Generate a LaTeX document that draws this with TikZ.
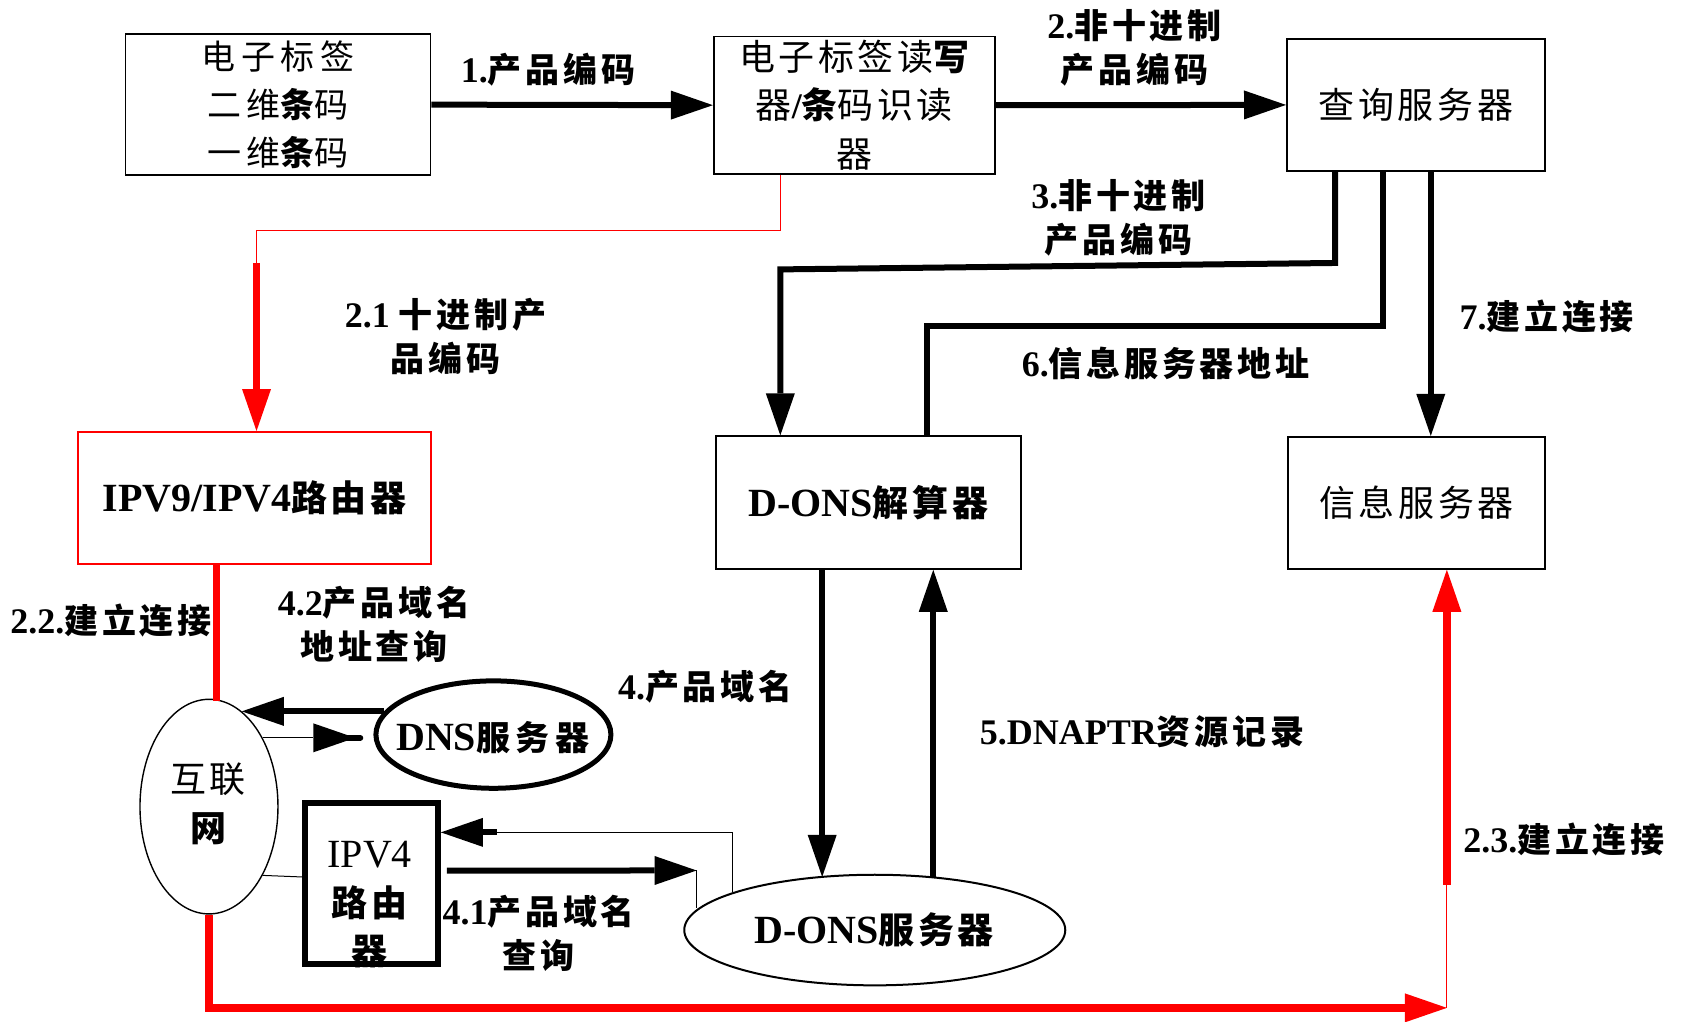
\documentclass[tikz,border=0pt]{standalone}
\usepackage{fontspec}
\setmainfont{Liberation Serif}
\newfontfamily\labC[LetterSpace=11]{Noto Sans CJK SC}
\newfontfamily\boxC[LetterSpace=16]{Noto Sans CJK SC}
\newfontfamily\boxCw[LetterSpace=10]{Noto Sans CJK SC}
\usetikzlibrary{arrows.meta,shapes.geometric}
\newcommand{\BigL}[1]{{\fontsize{20pt}{24.2pt}\selectfont\rmfamily #1}}
\newcommand{\LL}[1]{{\fontsize{18pt}{22pt}\selectfont\rmfamily #1}}
\begin{document}
\begin{tikzpicture}[x=0.53665pt,y=-0.53665pt,
  box/.style={draw, line width=0.9pt, rectangle, inner sep=0pt, align=center,
    font=\fontsize{18pt}{24.2pt}\selectfont\boxCw},
  ell/.style={draw, ellipse, inner sep=0pt},
  txt/.style={inner sep=0pt, align=center, font=\fontsize{18pt}{24.2pt}\selectfont\boxCw},
  lab/.style={inner sep=0pt, align=center, font=\fontsize{17pt}{22pt}\selectfont\bfseries\labC},
  thk/.style={line width=3pt},
  rthk/.style={line width=3.75pt, red},
  thn/.style={line width=0.5pt},
  tip/.style={-{Triangle[length=21pt,width=14.5pt,line width=0pt]}},
]
\path[use as bounding box, fill=white] (0,0) rectangle (1568,952);

% ---------- boxes ----------
\node[box, minimum width=152.4pt, minimum height=70.3pt,
  font=\fontsize{17pt}{24.2pt}\selectfont\boxC] (tag) at (259,97.5)
  {电子标签\\二维{\bfseries 条}码\\一维{\bfseries 条}码};
\node[box, minimum width=140.6pt, minimum height=68.7pt] (reader) at (796,98)
  {电子标签读{\bfseries 写}\\器{\rmfamily\bfseries /}{\bfseries 条}码识读\\器};
\node[box, minimum width=129.1pt, minimum height=65.7pt] (qs) at (1319.25,97.75) {查询服务器};
\node[box, draw=red, line width=1pt, minimum width=176.4pt, minimum height=66pt] (ipv9) at (237.1,464)
  {\BigL{\bfseries IPV9/IPV4}{\bfseries 路由器}};
\node[box, minimum width=152.4pt, minimum height=66.3pt] (donsb) at (809,468.25)
  {\BigL{\bfseries D-ONS}{\bfseries 解算器}};
\node[box, minimum width=128.5pt, minimum height=66pt] (info) at (1319.75,468.5) {信息服务器};

\node[txt] (ipv4t) at (344.5,843) {\BigL{IPV4}\\{\bfseries 路由}\\{\bfseries 器}};
\node[box, line width=3pt, minimum width=66.5pt, minimum height=80.5pt] (ipv4) at (346,823) {};

\node[ell, line width=0.7pt, minimum width=69pt, minimum height=107.3pt] (inet) at (194.7,751.5) {};
\node[txt] (inett) at (194,749) {互联\\{\bfseries 网}};
\node[ell, line width=2.5pt, minimum width=117.5pt, minimum height=53.7pt] (dns) at (459.7,684.4) {};
\node[txt, font=\fontsize{17pt}{24.2pt}\selectfont\boxC] (dnst) at (459,687.5) {\BigL{\bfseries DNS}{\bfseries 服务器}};
\node[ell, line width=1pt, minimum width=190.5pt, minimum height=55.3pt] (donse) at (815,866.5) {};
\node[txt] (donset) at (814.3,866.5) {\BigL{\bfseries D-ONS}{\bfseries 服务器}};

% ---------- coordinates ----------
\coordinate (r1) at (727,215);
\coordinate (r2) at (239,245);
\coordinate (c3a) at (1244,245);
\coordinate (c3b) at (727,251);
\coordinate (c6a) at (1288.5,303.5);
\coordinate (c6b) at (863.5,303.5);
\coordinate (c7) at (1333,300);
\coordinate (d4) at (766,817);
\coordinate (d5) at (869.5,818);
\coordinate (r3) at (201.5,653);
\coordinate (rb1) at (195,939);
\coordinate (rb2) at (1348,939);
\coordinate (rb3) at (1348,824.5);
\coordinate (t42) at (331,688);
\coordinate (t41) at (649,811);
\coordinate (cA) at (682.5,775.5);
\coordinate (cB) at (463,775.5);

% ---------- connectors ----------
\draw[thk,tip] (tag.east) -- (reader.west);
\draw[thk,tip] (reader.east) -- (qs.west);

\draw[red,thn] (reader.south -| r1) -- (r1) -- (r1 -| r2) -- (r2);
\draw[rthk,tip] (r2) -- (r2 |- ipv9.north);

\draw[thk,tip] (qs.south -| c3a) -- (c3a) -- (c3b) -- (c3b |- donsb.north);
\draw[thk] (qs.south -| c6a) -- (c6a) -- (c6b) -- (c6b |- donsb.north);
\draw[thk,tip] (qs.south -| c7) -- (c7 |- info.north);

\draw[thk,tip] (donsb.south -| d4) -- (d4);
\draw[thk,tip] (d5) -- (d5 |- donsb.south);

\draw[rthk] (ipv9.south -| r3) -- (r3);
\draw[rthk,tip] (inet.south) -- (inet.south |- rb1) -- (rb2);
\draw[red,thn] (rb2) -- (rb3);
\draw[rthk,tip] (rb3) -- (rb3 |- info.south);

\draw[thk,tip] (dns.168) -- (inet.71 |- dns.168);
\draw[thn,tip] (inet.52) -- (inet.52 -| t42);
\draw[thk,line cap=round] ([xshift=-4.5pt]inet.52 -| t42) -- ([xshift=2.5pt]inet.52 -| t42);
\draw[thn] (inet.-52) -- ([yshift=3.2pt]ipv4.west);

\draw[thk,tip] ([xshift=3pt,yshift=6.4pt]ipv4.east) -- (t41);
\draw[thn] (t41) -- (t41 |- donse.173.5);
\draw[thn] (cA |- donse.165.5) -- (cA) -- (cB);
\draw[thk,tip] (cB) -- (cB -| ipv4.east);

% ---------- labels ----------
\node[lab] (l1) at (510.6,65) {\LL{1.}产品编码};
\node[lab] (l2) at (1057,44.2) {\LL{2.}非十进制\\产品编码};
\node[lab] (l3) at (1042,203.3) {\LL{3.}非十进制\\产品编码};
\node[lab] (l6) at (1086,338.5) {\LL{6.}信息服务器地址};
\node[lab] (l7) at (1441,295) {\LL{7.}建立连接};
\node[lab] (l21) at (415,313.7) {\LL{2.1 }十进制产\\品编码};
\node[lab] (l22) at (103.3,577.7) {\LL{2.2.}建立连接};
\node[lab] (l42) at (348.5,581.5) {\LL{4.2}产品域名\\地址查询};
\node[lab] (l4) at (657,639.8) {\LL{4.}产品域名};
\node[lab] (l5) at (1064,681.7) {\LL{5.DNAPTR}资源记录};
\node[lab] (l41) at (502,869.6) {\LL{4.1}产品域名\\查询};
\node[lab] (l23) at (1457,782.6) {\LL{2.3.}建立连接};
\end{tikzpicture}
\end{document}
